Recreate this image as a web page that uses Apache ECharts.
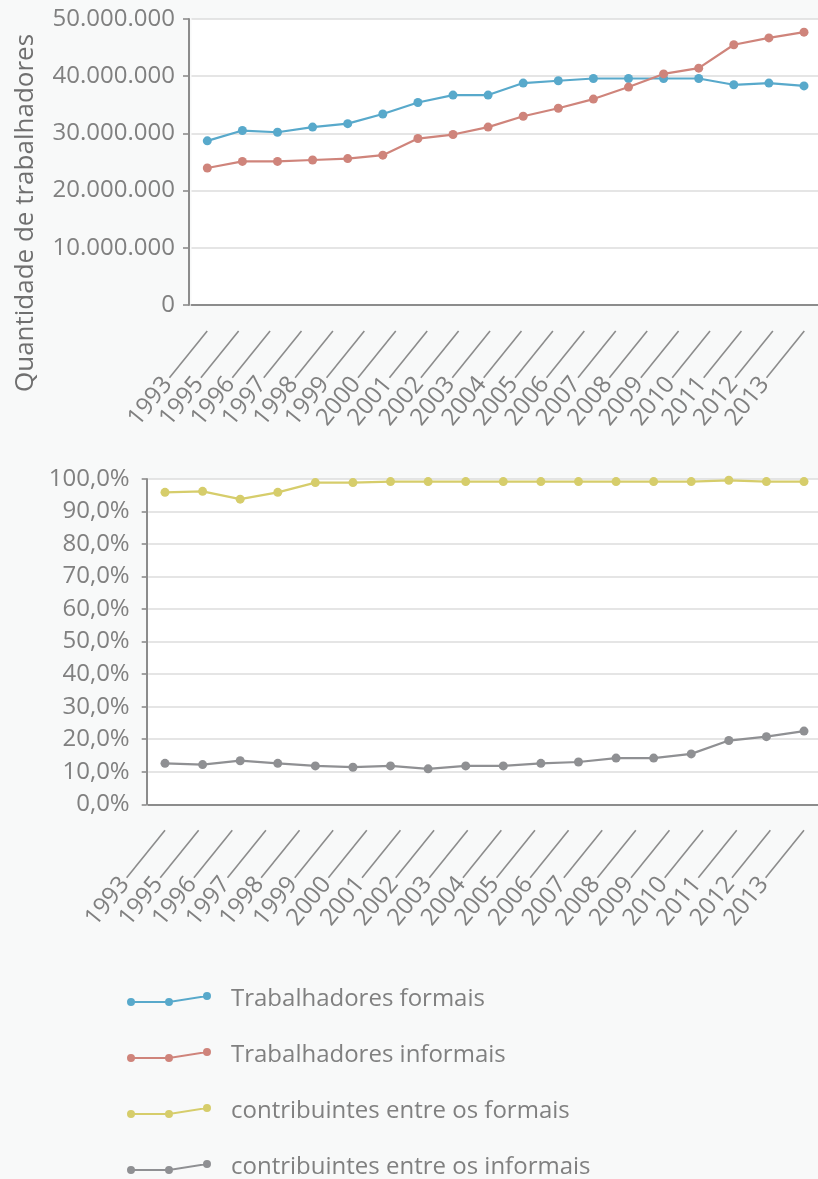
<!DOCTYPE html>
<html>
<head>
<meta charset="utf-8">
<script src="https://cdn.jsdelivr.net/npm/echarts@6/dist/echarts.min.js"></script>
<style>
  html, body { margin: 0; padding: 0; background: #f8f9f9; }
  #chart { width: 818px; height: 1179px; }
</style>
</head>
<body>
<div id="chart"></div>
<script>
// Axis labels printed under both panels
const axisYears = ['1993', '1995', '1996', '1997', '1998', '1999', '2000', '2001', '2002', '2003',
                   '2004', '2005', '2006', '2007', '2008', '2009', '2010', '2011', '2012', '2013'];
// Survey years that carry data points
const dataYears = ['1993', '1995', '1996', '1997', '1998', '1999', '2001', '2002', '2003',
                   '2004', '2005', '2006', '2007', '2008', '2009', '2011', '2012', '2013'];

// Number of workers
const formais   = [28700000, 30500000, 30200000, 31100000, 31700000, 33400000, 35400000, 36700000, 36700000,
                   38800000, 39200000, 39600000, 39600000, 39600000, 39600000, 38500000, 38800000, 38300000];
const informais = [23950000, 25100000, 25100000, 25350000, 25600000, 26200000, 29100000, 29800000, 31100000,
                   33000000, 34400000, 36000000, 38100000, 40400000, 41400000, 45500000, 46700000, 47700000];

// Share of contributors (%)
const contribFormais   = [95.9, 96.2, 93.8, 95.9, 98.9, 98.9, 99.2, 99.2, 99.2,
                          99.2, 99.2, 99.2, 99.2, 99.2, 99.2, 99.6, 99.2, 99.2];
const contribInformais = [12.6, 12.2, 13.4, 12.6, 11.8, 11.4, 11.8, 10.9, 11.8,
                          11.8, 12.6, 13.0, 14.2, 14.2, 15.5, 19.6, 20.8, 22.5];

const seriesNames = ['Trabalhadores formais', 'Trabalhadores informais',
                     'contribuintes entre os formais', 'contribuintes entre os informais'];
const seriesColors = ['#58a9cb', '#cf847b', '#d6cd6b', '#8f9093'];

const yName = 'Quantidade de trabalhadores';

const FONT = 'Open Sans';
const TXT = '#808080';
const AXIS = '#8c8c8c';
const GRIDLINE = '#dcdcdc';

// legend glyph: a short polyline with three dots (all sub-paths wound the same way)
const legendIcon = 'path://M0,10a4,4 0 1,1 8,0a4,4 0 1,1 -8,0Z' +
  'M38,10a4,4 0 1,1 8,0a4,4 0 1,1 -8,0Z' +
  'M76,4a4,4 0 1,1 8,0a4,4 0 1,1 -8,0Z' +
  'M4,9L42,9L80,3L80,5L42,11L4,11Z';

function thousands(v) {
  return String(v).replace(/\B(?=(\d{3})+(?!\d))/g, '.');
}
function percent(v) {
  return v.toFixed(1).replace('.', ',') + '%';
}

// rotated year label followed by its leader line
function yearLabel(leader) {
  return {
    interval: 0,
    rotate: 51,
    margin: 26,
    formatter: v => '{t|' + v + '}{g|}{l|}',
    rich: {
      t: { fontFamily: FONT, fontSize: 24, color: TXT },
      g: { width: 3 },
      l: { width: leader, height: 1.6, backgroundColor: AXIS }
    }
  };
}

function visibleX(gridIndex, leader) {
  return {
    type: 'category', gridIndex, data: axisYears, boundaryGap: true,
    axisLine: { lineStyle: { color: AXIS, width: 2 } },
    axisTick: { alignWithLabel: true, length: 26, lineStyle: { color: AXIS, width: 1.6 } },
    axisLabel: yearLabel(leader),
    splitLine: { show: false }
  };
}
function hiddenX(gridIndex) {
  return { type: 'category', gridIndex, data: dataYears, boundaryGap: false, show: false };
}

const chart = echarts.init(document.getElementById('chart'));
chart.setOption({
  animation: false,
  backgroundColor: '#f8f9f9',
  textStyle: { fontFamily: FONT },
  grid: [
    { left: 191.5, right: -2, top: 19, bottom: 874, show: true, backgroundColor: '#ffffff', borderWidth: 0, outerBoundsMode: 'none' },
    { left: 207.3, right: 14, top: 19, bottom: 874, outerBoundsMode: 'none' },
    { left: 148.2, right: -2.8, top: 479, bottom: 374.7, show: true, backgroundColor: '#ffffff', borderWidth: 0, outerBoundsMode: 'none' },
    { left: 165, right: 14, top: 479, bottom: 374.7, outerBoundsMode: 'none' }
  ],
  xAxis: [visibleX(0, 60), hiddenX(1), visibleX(2, 61), hiddenX(3)],
  yAxis: [
    {
      type: 'value', gridIndex: 0, min: 0, max: 50000000, interval: 10000000, offset: 2.5,
      axisLine: { show: true, lineStyle: { color: AXIS, width: 2 } },
      axisTick: { show: true, length: 6, lineStyle: { color: AXIS, width: 1.6 } },
      axisLabel: { margin: 14, fontSize: 24, color: TXT, fontFamily: FONT, formatter: thousands },
      splitLine: { lineStyle: { color: GRIDLINE, width: 1.6 } }
    },
    { type: 'value', gridIndex: 1, min: 0, max: 50000000, show: false, splitLine: { show: false } },
    {
      type: 'value', gridIndex: 2, min: 0, max: 100, interval: 10, offset: 1.5,
      axisLine: { show: true, lineStyle: { color: AXIS, width: 2 } },
      axisTick: { show: true, length: 5, lineStyle: { color: AXIS, width: 1.6 } },
      axisLabel: { margin: 17, fontSize: 24, color: TXT, fontFamily: FONT, formatter: percent },
      splitLine: { lineStyle: { color: GRIDLINE, width: 1.6 } }
    },
    { type: 'value', gridIndex: 3, min: 0, max: 100, show: false, splitLine: { show: false } }
  ],
  legend: {
    orient: 'vertical', left: 127, top: 987, height: 230, padding: 0,
    itemWidth: 84, itemHeight: 14, itemGap: 32,
    icon: legendIcon,
    data: seriesNames.map((n, i) => ({ name: n, itemStyle: { color: seriesColors[i], borderWidth: 0 } })),
    textStyle: { fontFamily: FONT, fontSize: 24, color: TXT, padding: [0, 0, 0, 15] }
  },
  graphic: [{
    type: 'text', x: 26, y: 213, rotation: Math.PI / 2,
    style: { text: yName, fontFamily: FONT, fontSize: 26, fill: '#6f6f6f', align: 'center', verticalAlign: 'middle' }
  }],
  series: [
    [formais, 1], [informais, 1], [contribFormais, 3], [contribInformais, 3]
  ].map(([values, idx], i) => ({
    name: seriesNames[i], type: 'line', xAxisIndex: idx, yAxisIndex: idx, data: values,
    symbol: 'circle', symbolSize: 9,
    lineStyle: { color: seriesColors[i], width: 2.2 },
    itemStyle: { color: seriesColors[i] },
    emphasis: { disabled: true }
  }))
});
</script>
</body>
</html>
